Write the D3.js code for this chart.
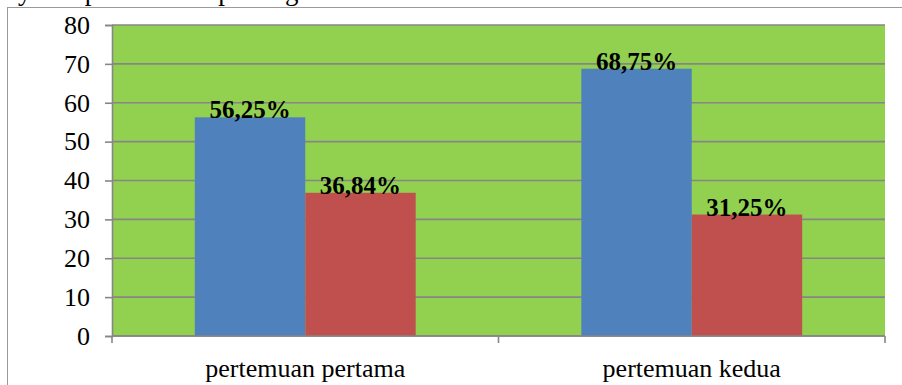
<!DOCTYPE html>
<html>
<head>
<meta charset="utf-8">
<script src="https://cdn.jsdelivr.net/npm/d3@7"></script>
<style>
  html, body { margin: 0; padding: 0; background: #fff; }
  svg { display: block; }
  text { font-family: "Liberation Serif", "Times New Roman", serif; fill: #000; }
</style>
</head>
<body>
<svg id="chart" width="902" height="385"></svg>
<script>
// Meetings and the two result series (percent)
const categories = ["pertemuan pertama", "pertemuan kedua"];
const seriesNames = ["tuntas", "tidak tuntas"];
const seriesA = [56.25, 68.75];
const seriesB = [36.84, 31.25];
const valueLabels = [["56,25%", "36,84%"], ["68,75%", "31,25%"]];
const yTicks = [0, 10, 20, 30, 40, 50, 60, 70, 80];
const colors = ["#4F81BD", "#C0504D"];

const serif = "'Liberation Serif', 'Times New Roman', serif";
const svg = d3.select("#chart");

// Running text of the page above the chart frame
svg.append("text")
  .attr("x", 18).attr("y", 0)
  .attr("font-size", 27)
  .attr("word-spacing", 9)
  .style("font-family", serif)
  .text("ya dapat dilihat pada gambar di bawah ini.");

// Chart frame
svg.append("rect")
  .attr("x", 7.5).attr("y", 7.5)
  .attr("width", 1000).attr("height", 500)
  .attr("fill", "#fff")
  .attr("stroke", "#9a9a9a").attr("stroke-width", 1);

const plot = { left: 112, right: 885, top: 25, bottom: 336 };

const x0 = d3.scaleBand().domain(categories).range([plot.left, plot.right]).padding(0);
const x1 = d3.scaleBand().domain(seriesNames).range([0, x0.bandwidth()])
  .paddingInner(0).paddingOuter(0.75);
const y = d3.scaleLinear().domain([0, 80]).range([plot.bottom, plot.top]);

// Plot background
svg.append("rect")
  .attr("x", plot.left).attr("y", plot.top)
  .attr("width", plot.right - plot.left).attr("height", plot.bottom - plot.top)
  .attr("fill", "#92D050");

// Horizontal gridlines
svg.append("g").selectAll("line").data(yTicks).join("line")
  .attr("x1", plot.left).attr("x2", plot.right)
  .attr("y1", d => y(d)).attr("y2", d => y(d))
  .attr("stroke", "#868686").attr("stroke-width", 1.6);

// Bars
const rows = categories.map((c, i) => ({ cat: c, vals: [seriesA[i], seriesB[i]], labels: valueLabels[i] }));
const groups = svg.append("g").selectAll("g").data(rows).join("g")
  .attr("transform", d => `translate(${x0(d.cat)},0)`);

groups.selectAll("rect").data(d => d.vals.map((v, j) => ({ s: seriesNames[j], v, j })))
  .join("rect")
  .attr("x", d => x1(d.s)).attr("width", x1.bandwidth())
  .attr("y", d => y(d.v)).attr("height", d => y(0) - y(d.v))
  .attr("fill", d => colors[d.j]);

// Value labels
groups.selectAll("text").data(d => d.vals.map((v, j) => ({ s: seriesNames[j], v, t: d.labels[j] })))
  .join("text")
  .attr("x", d => x1(d.s) + x1.bandwidth() / 2)
  .attr("y", d => y(d.v) + 1)
  .attr("text-anchor", "middle")
  .attr("font-size", 25).attr("font-weight", "bold")
  .style("font-family", serif)
  .text(d => d.t);

// Y axis
const yAxis = svg.append("g").attr("transform", `translate(${plot.left},0)`)
  .call(d3.axisLeft(y).tickValues(yTicks).tickSize(7).tickPadding(15).tickFormat(d3.format("d")));
yAxis.attr("font-family", null);
yAxis.select(".domain").attr("stroke", "#868686").attr("stroke-width", 1.6);
yAxis.selectAll(".tick line").attr("stroke", "#868686").attr("stroke-width", 1.6);
yAxis.selectAll(".tick text")
  .style("font-family", serif)
  .attr("font-size", 26).attr("fill", "#000");

// X axis: line, ticks at category boundaries, labels
const xg = svg.append("g");
xg.append("line")
  .attr("x1", plot.left).attr("x2", plot.right)
  .attr("y1", y(0)).attr("y2", y(0))
  .attr("stroke", "#868686").attr("stroke-width", 1.6);
const bounds = categories.map(c => x0(c)).concat([x0(categories[categories.length - 1]) + x0.bandwidth()]);
xg.selectAll("line.tk").data(bounds).join("line").attr("class", "tk")
  .attr("x1", d => d).attr("x2", d => d)
  .attr("y1", y(0)).attr("y2", y(0) + 7)
  .attr("stroke", "#868686").attr("stroke-width", 1.6);
xg.selectAll("text").data(categories).join("text")
  .attr("x", d => x0(d) + x0.bandwidth() / 2)
  .attr("y", 377)
  .attr("text-anchor", "middle")
  .attr("font-size", 26)
  .style("font-family", serif)
  .text(d => d);
</script>
</body>
</html>
